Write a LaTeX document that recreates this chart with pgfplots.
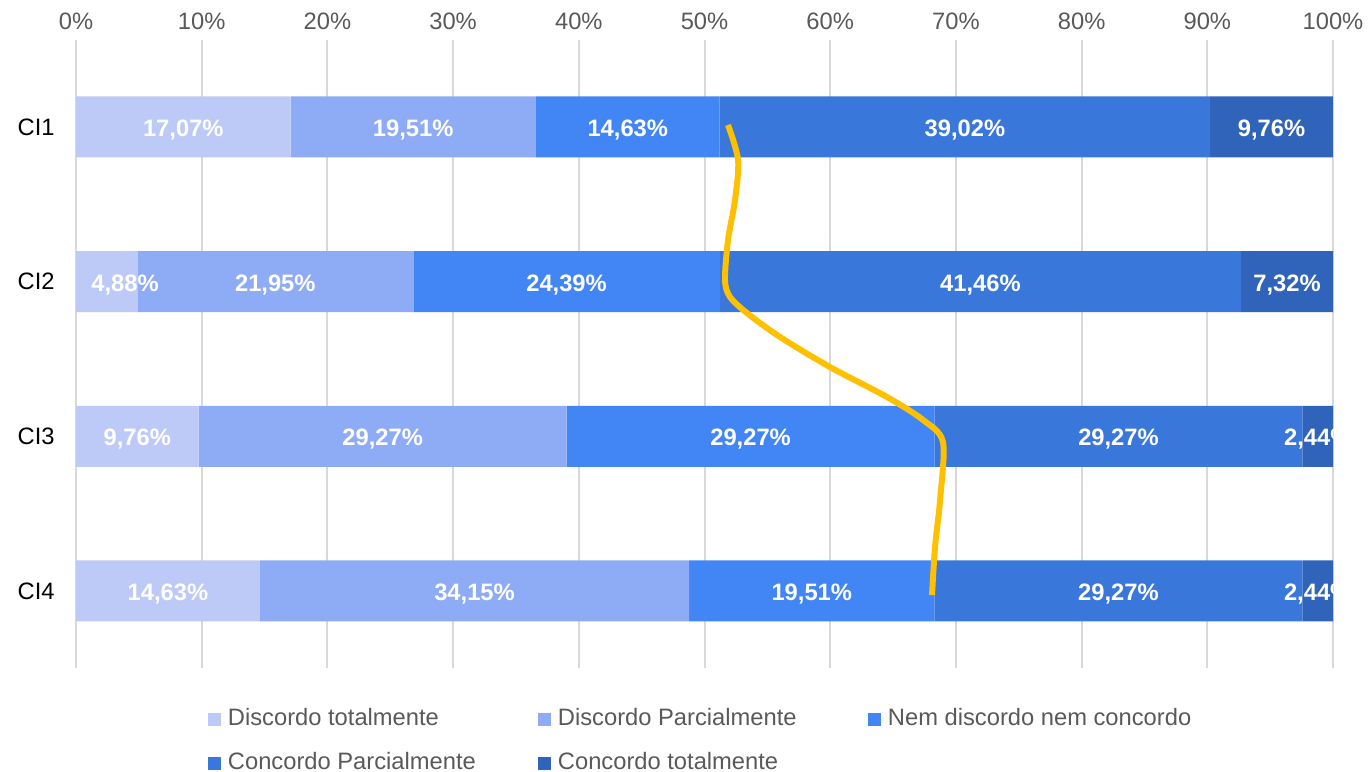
\documentclass[border=0pt]{standalone}
\usepackage{fontspec}
\setmainfont{Liberation Sans}
\usepackage{pgfplots}
\pgfplotsset{compat=1.18}

\definecolor{c1}{HTML}{BDCAF8}
\definecolor{c2}{HTML}{8EABF5}
\definecolor{c3}{HTML}{4285F4}
\definecolor{c4}{HTML}{3A77DA}
\definecolor{c5}{HTML}{3064BA}
\definecolor{gridgray}{HTML}{D9D9D9}
\definecolor{textgray}{HTML}{595959}
\definecolor{curve}{HTML}{FFC000}

\newcommand{\chartfont}{\fontsize{6.75}{8}\selectfont}

\begin{document}
\begin{tikzpicture}
\useasboundingbox (-7.6mm,-10.4mm) rectangle (129.2mm,66.8mm);

\begin{axis}[
    at={(0,0)}, anchor=south west,
    scale only axis, width=125.7mm, height=62.8mm,
    xbar stacked, bar width=6.1mm,
    xmin=0, xmax=100, ymin=0.4375, ymax=4.498, y dir=reverse,
    ytick={1,2,3,4}, yticklabels={CI1,CI2,CI3,CI4},
    xtick={0,10,...,100}, xticklabel pos=right,
    xticklabel={\pgfmathprintnumber{\tick}\%},
    /pgf/number format/assume math mode=true,
    axis line style={draw=none}, major tick length=0pt, tick style={draw=none},
    xmajorgrids, major grid style={gridgray, line width=0.57pt},
    tick label style={font=\chartfont},
    xticklabel style={text=textgray, yshift=-0.2mm},
    yticklabel style={text=black, xshift=-0.9mm},
    legend columns=3,
    legend style={at={(0.105,-0.117)}, anchor=west, draw=none, fill=none,
        font=\chartfont, text=textgray, inner sep=0pt, outer sep=0pt,
        nodes={inner sep=0pt}, column sep=0.7mm, row sep=2.1mm},
    legend cell align=left,
    legend image code/.code={\fill[#1] (0mm,-0.65mm) rectangle (1.3mm,0.65mm);},
]
\addplot[fill=c1, draw=none] coordinates {(17.07,1) (4.88,2) (9.76,3) (14.63,4)};
\addlegendentry{\makebox[30.3mm][l]{Discordo totalmente}}
\addplot[fill=c2, draw=none] coordinates {(19.51,1) (21.95,2) (29.27,3) (34.15,4)};
\addlegendentry{\makebox[30.3mm][l]{Discordo Parcialmente}}
\addplot[fill=c3, draw=none] coordinates {(14.63,1) (24.39,2) (29.27,3) (19.51,4)};
\addlegendentry{Nem discordo nem concordo}
\addplot[fill=c4, draw=none] coordinates {(39.02,1) (41.46,2) (29.27,3) (29.27,4)};
\addlegendentry{\makebox[30.3mm][l]{Concordo Parcialmente}}
\addplot[fill=c5, draw=none] coordinates {(9.76,1) (7.32,2) (2.44,3) (2.44,4)};
\addlegendentry{Concordo totalmente}
\end{axis}

% value labels and the hand-drawn curve, in a second axis with the same frame
\begin{axis}[
    at={(0,0)}, anchor=south west,
    scale only axis, width=125.7mm, height=62.8mm,
    xmin=0, xmax=100, ymin=0.4375, ymax=4.498, y dir=reverse,
    hide axis, clip=false,
]
\addplot[only marks, mark=*, mark options={draw=none, fill=none}, mark size=0pt,
    point meta=explicit,
    nodes near coords={\pgfmathprintnumber[fixed,fixed zerofill,precision=2,use comma,assume math mode=true]{\pgfplotspointmeta}\%},
    every node near coord/.append style={anchor=center, text=white, font=\chartfont\bfseries, inner sep=0pt, yshift=-0.3mm}]
coordinates {
(8.535,1) [17.07] (26.825,1) [19.51] (43.895,1) [14.63] (70.72,1) [39.02] (95.11,1) [9.76]
(3.9,2) [4.88] (15.855,2) [21.95] (39.025,2) [24.39] (71.95,2) [41.46] (96.34,2) [7.32]
(4.88,3) [9.76] (24.395,3) [29.27] (53.665,3) [29.27] (82.935,3) [29.27] (98.79,3) [2.44]
(7.315,4) [14.63] (31.705,4) [34.15] (58.535,4) [19.51] (82.925,4) [29.27] (98.78,4) [2.44]
};
\addplot[curve, line width=1.7pt, smooth, tension=0.5] coordinates {
(51.87,0.987) (52.67,1.213) (52.43,1.472) (51.87,1.731) (51.63,1.989)
(52.03,2.099) (53.38,2.203) (56.01,2.358) (59.98,2.552) (64.52,2.746)
(67.38,2.894) (68.97,3.037) (68.74,3.412) (68.34,3.715) (68.10,4.026)
};
\end{axis}
\end{tikzpicture}
\end{document}
